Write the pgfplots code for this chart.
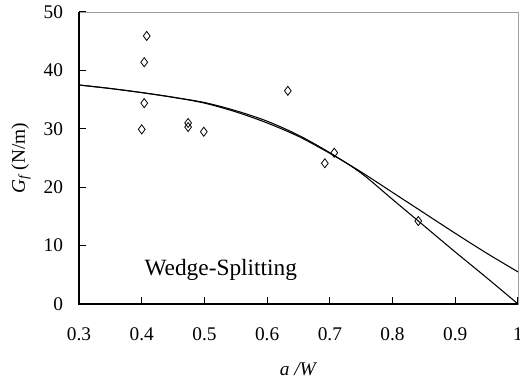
\documentclass[border=0pt]{standalone}
\usepackage{fontspec}
\setmainfont{Liberation Serif}
\usepackage{pgfplots}
\pgfplotsset{compat=1.18}
\begin{document}
\begin{tikzpicture}
\begin{axis}[
  scale only axis,
  width=329.25pt, height=219pt,
  xmin=0.3, xmax=1.0, ymin=0, ymax=50,
  xtick={0.3,0.4,0.5,0.6,0.7,0.8,0.9,1.0},
  xticklabels={0.3,0.4,0.5,0.6,0.7,0.8,0.9,1},
  ytick={0,10,20,30,40,50},
  xtick pos=bottom, ytick pos=left,
  tick align=inside,
  major tick length=5.25pt,
  tick style={black, line width=0.8pt},
  axis line style={gray!75, line width=0.7pt},
  /pgf/number format/assume math mode=true,
  ticklabel style={font=\fontsize{14.5}{17}\selectfont},
  xticklabel style={yshift=-14pt},
  yticklabel style={xshift=-8.5pt},
  clip=false,
]
\draw[black, line width=1.1pt] (rel axis cs:0,1) -- (rel axis cs:0,0) -- (rel axis cs:1,0);
\addplot[black, line width=0.8pt, smooth] coordinates {
(0.30,37.5) (0.35,36.9) (0.40,36.2) (0.45,35.4) (0.50,34.5) (0.55,33.1)
(0.60,31.3) (0.65,28.9) (0.70,25.9) (0.75,22.4) (0.80,17.9) (0.85,13.4)
(0.90,8.9) (0.95,4.5) (1.00,0)};
\addplot[black, line width=0.8pt, smooth] coordinates {
(0.30,37.5) (0.35,36.9) (0.40,36.2) (0.45,35.4) (0.50,34.4) (0.55,32.9)
(0.60,31.0) (0.65,28.7) (0.70,25.8) (0.75,22.6) (0.80,19.1) (0.85,15.6)
(0.90,12.1) (0.95,8.7) (1.00,5.5)};
\addplot[only marks, mark=diamond, mark size=3.4pt, mark options={black, line width=0.6pt}] coordinates {
(0.408,45.9) (0.404,41.4) (0.404,34.4) (0.400,29.9) (0.474,31.0) (0.474,30.3)
(0.499,29.5) (0.633,36.5) (0.692,24.1) (0.707,25.9) (0.841,14.2)};
\node[anchor=base west, font=\fontsize{17.5}{20}\selectfont] at (axis cs:0.397,4.8) {Wedge-Splitting};
\node[xshift=-40.5pt, rotate=90, anchor=base, font=\fontsize{14.5}{17}\selectfont] at (axis description cs:0,0.5) {\textit{G\textsubscript{f}} (N/m)};
\node[yshift=-54pt, anchor=base, font=\fontsize{14.5}{17}\selectfont] at (axis description cs:0.5,0) {\textit{a /W}};
\end{axis}
\pgfresetboundingbox
\path[use as bounding box] ([xshift=-59.25pt,yshift=-59.25pt]current axis.south west) rectangle ([xshift=1.5pt,yshift=9pt]current axis.north east);
\end{tikzpicture}
\end{document}
